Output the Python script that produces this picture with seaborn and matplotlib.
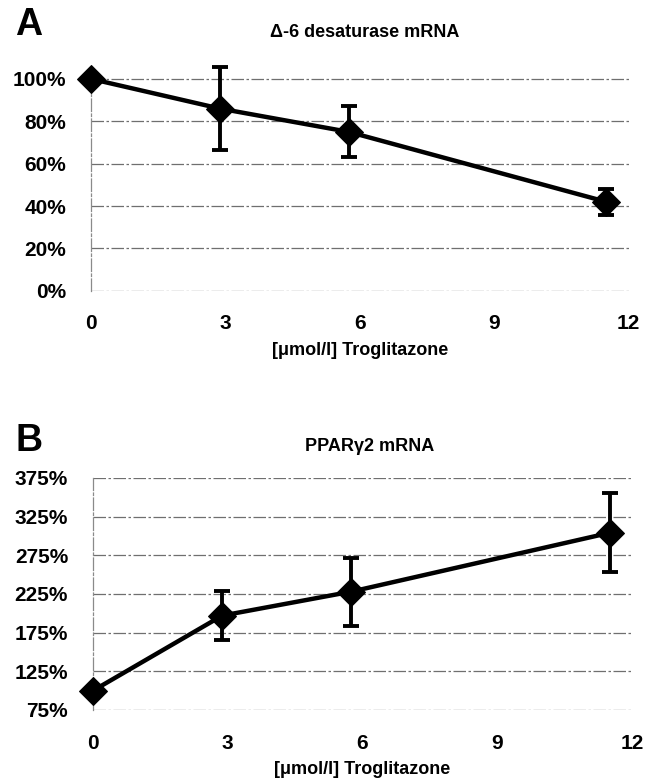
import numpy as np
import pandas as pd
import matplotlib
matplotlib.use("Agg")
import matplotlib.pyplot as plt
import seaborn as sns

# dose of troglitazone (umol/l)
dose = [0, 2.875, 5.75, 11.5]

# panel A - delta-6 desaturase mRNA (% of control)
d6_mean = [100, 86, 75, 42]
d6_err = [0, 19.5, 12, 6]

# panel B - PPARgamma2 mRNA (% of control)
ppar_mean = [100, 197, 228, 304]
ppar_err = [0, 32, 44, 51]

xticks = [0, 3, 6, 9, 12]
ticksA = [0, 20, 40, 60, 80, 100]
ticksB = [75, 125, 175, 225, 275, 325, 375]

sns.set_theme(style="white")
plt.rcParams['font.family'] = ['Liberation Sans', 'DejaVu Sans']
plt.rcParams['font.weight'] = 'bold'
plt.rcParams['text.color'] = 'black'

fig = plt.figure(figsize=(6.55, 7.84), dpi=100)
axA = fig.add_axes([0.139, 0.629, 0.821, 0.292])
axB = fig.add_axes([0.142, 0.0944, 0.823, 0.296])

grid_style = (0, (10, 2, 2, 2))

def draw(ax, mean, err, yticks, ylim):
    df = pd.DataFrame({'dose': dose, 'val': mean})
    for t in yticks:
        ax.axhline(t, color='#6f6f6f', lw=0.9, ls=grid_style, zorder=0)
    ax.errorbar(dose, mean, yerr=err, fmt='none', ecolor='black',
                elinewidth=2.8, capsize=6, capthick=2.8, zorder=3, clip_on=False)
    sns.lineplot(data=df, x='dose', y='val', ax=ax, color='black', lw=3.2,
                 marker='D', markersize=14, markeredgecolor='black',
                 zorder=4, clip_on=False)
    ax.set_xlim(0, 12)
    ax.set_ylim(*ylim)
    ax.set_xticks(xticks)
    ax.set_yticks(yticks)
    ax.set_yticklabels([f"{t}%" for t in yticks])
    ax.tick_params(axis='both', labelsize=15, length=5, width=0.9,
                   color='#6f6f6f', labelcolor='black', direction='out')
    ax.tick_params(axis='x', pad=12)
    ax.tick_params(axis='y', pad=13)
    for s in ['top', 'right', 'bottom']:
        ax.spines[s].set_visible(False)
    ax.spines['left'].set_color('#8a8a8a')
    ax.spines['left'].set_linestyle(grid_style)
    ax.spines['left'].set_linewidth(0.9)
    ax.spines['left'].set_bounds(yticks[0], yticks[-1])
    ax.set_xlabel('[\u03bcmol/l] Troglitazone', fontsize=13, fontweight='bold',
                  labelpad=6, color='black')
    ax.set_ylabel('')

draw(axA, d6_mean, d6_err, ticksA, (0, 108))
draw(axB, ppar_mean, ppar_err, ticksB, (75, 375))

fig.text(0.557, 0.958, '\u0394-6 desaturase mRNA', fontsize=13, fontweight='bold',
         ha='center', va='center', color='black')
fig.text(0.564, 0.430, 'PPAR\u03b32 mRNA', fontsize=13, fontweight='bold',
         ha='center', va='center', color='black')

fig.text(0.023, 0.968, 'A', fontsize=27, fontweight='bold', va='center', ha='left',
         color='black')
fig.text(0.023, 0.437, 'B', fontsize=27, fontweight='bold', va='center', ha='left',
         color='black')

fig.savefig('out.png', dpi=100)
